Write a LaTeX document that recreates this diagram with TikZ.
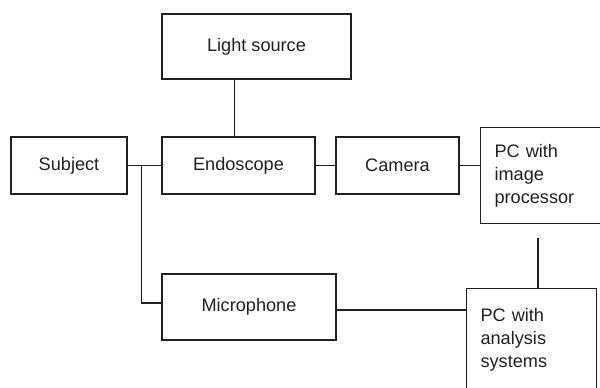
\documentclass[tikz,border=0pt]{standalone}
\usepackage{fontspec}
\setmainfont{Liberation Sans}
\usetikzlibrary{shapes.geometric, arrows}
\definecolor{ink}{HTML}{231F20}
\tikzstyle{unit} = [rectangle, 
minimum height=1.425cm, 
text centered, 
line width=0.8pt, 
draw=ink, 
text=ink, 
font=\fontsize{12.9}{16.3}\selectfont]
\tikzstyle{pc} = [rectangle, 
anchor=north west, 
align=left, 
inner xsep=0.35cm, 
line width=0.8pt, 
draw=ink, 
text=ink, 
font=\fontsize{12.9}{16.3}\selectfont]
\tikzstyle{link} = [line width=0.75pt, draw=ink]

\begin{document}
\begin{tikzpicture}[x=0.025cm, y=-0.025cm]
\useasboundingbox (0,0) rectangle (600,388);
\clip (0,0) rectangle (600,388);

\node (light) [unit, minimum width=4.725cm, minimum height=1.625cm] at (256.5,46.5) {Light source};
\node (subj) [unit, minimum width=2.9cm] at (69,165.5) {Subject};
\node (endo) [unit, minimum width=3.825cm] at (238.5,165.5) {Endoscope};
\node (cam) [unit, minimum width=3.075cm] at (397.5,165.5) {Camera};
\node (pc1) [pc, text width=4cm, minimum height=2.4cm] at (480,127) {PC with\\image\\processor};
\node (mic) [unit, minimum width=4.35cm, minimum height=1.65cm] at (249,307) {Microphone};
\node (pc2) [pc, text width=2.55cm, inner ysep=0.49cm, text depth=2cm] at (466,288) {PC with\\analysis\\systems};

\coordinate (branch) at ([xshift=0.35cm]subj.east);
\coordinate (gap) at (538,238);

\draw [link] ([xshift=-0.54cm]light.south) -- ([xshift=-0.54cm]light.south |- endo.north);
\draw [link] (subj) -- (endo);
\draw [link] (endo) -- (cam);
\draw [link] (cam.east) -- (cam.east -| pc1.west);
\draw [link] (branch) |- ([yshift=0.1cm]mic.west);
\draw [link] ([yshift=-0.075cm]mic.east) -- ([yshift=-0.075cm]mic.east -| pc2.west);
\draw [link] (gap) -- (gap |- pc2.north);

\end{tikzpicture}
\end{document}
